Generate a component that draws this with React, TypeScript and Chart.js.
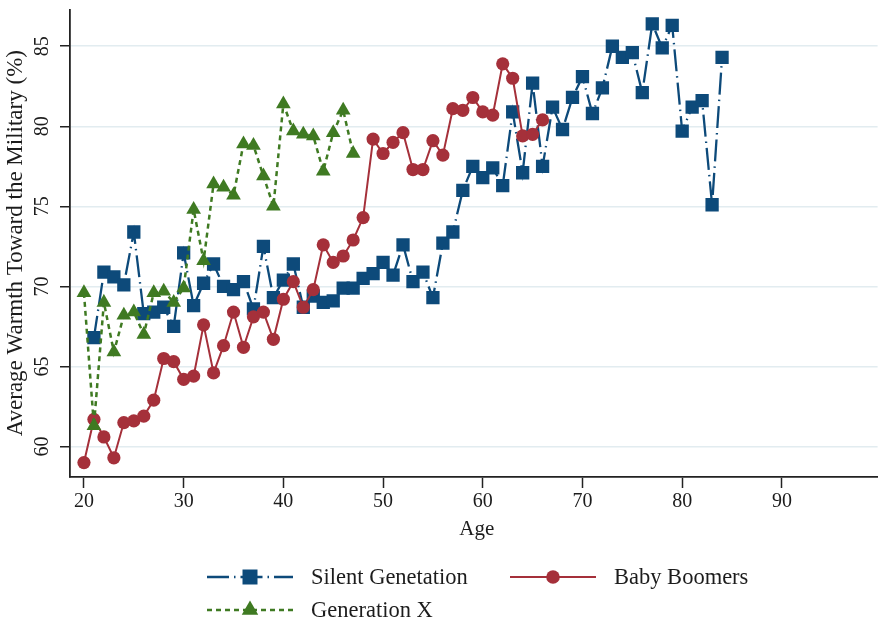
import React, { useEffect, useRef } from "react";
import { Chart, registerables } from "chart.js";

Chart.register(...registerables);

// ---- data ----
const seriesNames = ["Silent Genetation", "Baby Boomers", "Generation X"];

const silentAges = [21, 22, 23, 24, 25, 26, 27, 28, 29, 30, 31, 32, 33, 34, 35, 36, 37, 38, 39, 40, 41, 42, 43, 44, 45, 46, 47, 48, 49, 50, 51, 52, 53, 54, 55, 56, 57, 58, 59, 60, 61, 62, 63, 64, 65, 66, 67, 68, 69, 70, 71, 72, 73, 74, 75, 76, 77, 78, 79, 80, 81, 82, 83, 84];
const silentValues = [66.8, 70.9, 70.6, 70.1, 73.4, 68.3, 68.4, 68.7, 67.5, 72.1, 68.8, 70.2, 71.4, 70.0, 69.8, 70.3, 68.6, 72.5, 69.3, 70.4, 71.4, 68.7, 69.4, 69.0, 69.1, 69.9, 69.9, 70.5, 70.8, 71.5, 70.7, 72.6, 70.3, 70.9, 69.3, 72.7, 73.4, 76.0, 77.5, 76.8, 77.4, 76.3, 80.9, 77.1, 82.7, 77.5, 81.2, 79.8, 81.8, 83.1, 80.8, 82.4, 85.0, 84.3, 84.6, 82.1, 86.4, 84.9, 86.3, 79.7, 81.2, 81.6, 75.1, 84.3];

const boomerAges = [20, 21, 22, 23, 24, 25, 26, 27, 28, 29, 30, 31, 32, 33, 34, 35, 36, 37, 38, 39, 40, 41, 42, 43, 44, 45, 46, 47, 48, 49, 50, 51, 52, 53, 54, 55, 56, 57, 58, 59, 60, 61, 62, 63, 64, 65, 66];
const boomerValues = [59.0, 61.7, 60.6, 59.3, 61.5, 61.6, 61.9, 62.9, 65.5, 65.3, 64.2, 64.4, 67.6, 64.6, 66.3, 68.4, 66.2, 68.1, 68.4, 66.7, 69.2, 70.3, 68.7, 69.8, 72.6, 71.5, 71.9, 72.9, 74.3, 79.2, 78.3, 79.0, 79.6, 77.3, 77.3, 79.1, 78.2, 81.1, 81.0, 81.8, 80.9, 80.7, 83.9, 83.0, 79.4, 79.5, 80.4];

const genXAges = [20, 21, 22, 23, 24, 25, 26, 27, 28, 29, 30, 31, 32, 33, 34, 35, 36, 37, 38, 39, 40, 41, 42, 43, 44, 45, 46, 47];
const genXValues = [69.6, 61.3, 69.0, 65.9, 68.2, 68.4, 67.0, 69.6, 69.7, 69.0, 69.9, 74.8, 71.6, 76.4, 76.2, 75.7, 78.9, 78.8, 76.9, 75.0, 81.4, 79.7, 79.5, 79.4, 77.2, 79.6, 81.0, 78.3];

const xTickVals = [20, 30, 40, 50, 60, 70, 80, 90];
const yTickVals = [60, 65, 70, 75, 80, 85];
const xTitle = "Age";
const yTitle = "Average Warmth Toward the Military (%)";

// ---- styles ----
const FONT = '"Liberation Serif", "DejaVu Serif", serif';
const TEXT = "#1c1c1c";
const BLUE = "#0d4a7a";
const RED = "#a5303a";
const GREEN = "#3f7a22";
const GRID = "#e2ecf0";

function drawMarker(ctx: CanvasRenderingContext2D, style: string, x: number, y: number, color: string) {
  ctx.fillStyle = color;
  ctx.beginPath();
  if (style === "rect") {
    ctx.rect(x - 7.5, y - 7.5, 15, 15);
  } else if (style === "circle") {
    ctx.arc(x, y, 6.8, 0, Math.PI * 2);
  } else {
    const r = 9.5;
    ctx.moveTo(x, y - r);
    ctx.lineTo(x + r * Math.sin((2 * Math.PI) / 3), y + r / 2);
    ctx.lineTo(x - r * Math.sin((2 * Math.PI) / 3), y + r / 2);
    ctx.closePath();
  }
  ctx.fill();
}

const overlay = {
  id: "overlay",
  afterDraw(chart: any) {
    const ctx: CanvasRenderingContext2D = chart.ctx;
    const ys = chart.scales.y;
    const area = chart.chartArea;
    ctx.save();
    ctx.fillStyle = TEXT;
    ctx.textAlign = "center";
    ctx.textBaseline = "middle";
    ctx.font = `20px ${FONT}`;
    for (const v of yTickVals) {
      const py = ys.getPixelForValue(v);
      ctx.save();
      ctx.translate(43, py);
      ctx.rotate(-Math.PI / 2);
      ctx.fillText(String(v), 0, 0);
      ctx.restore();
    }
    ctx.font = `23px ${FONT}`;
    ctx.save();
    ctx.translate(16, (area.top + area.bottom) / 2);
    ctx.rotate(-Math.PI / 2);
    ctx.fillText(yTitle, 0, 0);
    ctx.restore();

    ctx.font = `21px ${FONT}`;
    ctx.fillText(xTitle, (area.left + area.right) / 2 + 3, 529);

    // legend
    const items = [
      { i: 0, x: 207, y: 577 },
      { i: 1, x: 510, y: 577 },
      { i: 2, x: 207, y: 610 },
    ];
    for (const it of items) {
      const d: any = chart.data.datasets[it.i];
      ctx.save();
      ctx.strokeStyle = d.borderColor;
      ctx.lineWidth = d.borderWidth;
      ctx.setLineDash(d.borderDash || []);
      ctx.beginPath();
      ctx.moveTo(it.x, it.y);
      ctx.lineTo(it.x + 86, it.y);
      ctx.stroke();
      ctx.setLineDash([]);
      drawMarker(ctx, d.pointStyle, it.x + 43, it.y, d.borderColor);
      ctx.restore();
      ctx.fillStyle = TEXT;
      ctx.font = `22.5px ${FONT}`;
      ctx.textAlign = "left";
      ctx.textBaseline = "middle";
      ctx.fillText(seriesNames[it.i], it.x + 104, it.y + 1);
    }
    ctx.restore();
  },
};

export default function App() {
  const ref = useRef<HTMLCanvasElement | null>(null);

  useEffect(() => {
    document.body.style.margin = "0";
    const canvas = ref.current;
    if (!canvas) return;
    const chart = new Chart(canvas, {
      type: "line",
      data: {
        datasets: [
          {
            label: seriesNames[0],
            data: silentAges.map((a, i) => ({ x: a, y: silentValues[i] })),
            borderColor: BLUE,
            backgroundColor: BLUE,
            borderWidth: 2.3,
            borderDash: [22, 5, 1.5, 5],
            pointStyle: "rect",
            pointRadius: 9.4,
            pointBorderWidth: 0,
            pointBackgroundColor: BLUE,
            tension: 0,
            order: 3,
          } as any,
          {
            label: seriesNames[1],
            data: boomerAges.map((a, i) => ({ x: a, y: boomerValues[i] })),
            borderColor: RED,
            backgroundColor: RED,
            borderWidth: 2,
            pointStyle: "circle",
            pointRadius: 6.6,
            pointBorderWidth: 0,
            pointBackgroundColor: RED,
            tension: 0,
            order: 2,
          } as any,
          {
            label: seriesNames[2],
            data: genXAges.map((a, i) => ({ x: a, y: genXValues[i] })),
            borderColor: GREEN,
            backgroundColor: GREEN,
            borderWidth: 2.5,
            borderDash: [5, 4],
            pointStyle: "triangle",
            pointRadius: 8.5,
            pointBorderWidth: 0,
            pointBackgroundColor: GREEN,
            tension: 0,
            order: 1,
          } as any,
        ],
      },
      options: {
        animation: false,
        responsive: false,
        devicePixelRatio: 1,
        layout: { padding: { top: 5, right: 0, left: 0, bottom: 0 } },
        plugins: { legend: { display: false }, tooltip: { enabled: false } },
        scales: {
          x: {
            type: "linear",
            min: 18.6,
            max: 99.6,
            afterBuildTicks: (s: any) => {
              s.ticks = xTickVals.map((v) => ({ value: v }));
            },
            afterFit: (s: any) => {
              s.height = 146;
            },
            grid: {
              drawOnChartArea: false,
              drawTicks: true,
              tickLength: 11,
              tickColor: "#222",
              tickWidth: 1.5,
            },
            border: { display: true, color: "#222", width: 1.8 },
            ticks: {
              color: TEXT,
              font: { family: FONT, size: 20 },
              padding: 2,
              maxRotation: 0,
              autoSkip: false,
            },
          },
          y: {
            type: "linear",
            min: 58.1,
            max: 87.3,
            afterBuildTicks: (s: any) => {
              s.ticks = yTickVals.map((v) => ({ value: v }));
            },
            afterFit: (s: any) => {
              s.width = 70;
            },
            grid: {
              color: GRID,
              lineWidth: 1.5,
              drawTicks: true,
              tickLength: 10,
              tickColor: "#222",
              tickWidth: 1.5,
            },
            border: { display: true, color: "#222", width: 1.8 },
            ticks: { display: false },
          },
        },
      },
      plugins: [overlay],
    } as any);
    return () => chart.destroy();
  }, []);

  return (
    <div style={{ width: 887, height: 623, position: "relative", background: "#fff" }}>
      <canvas ref={ref} width={887} height={623} />
    </div>
  );
}
